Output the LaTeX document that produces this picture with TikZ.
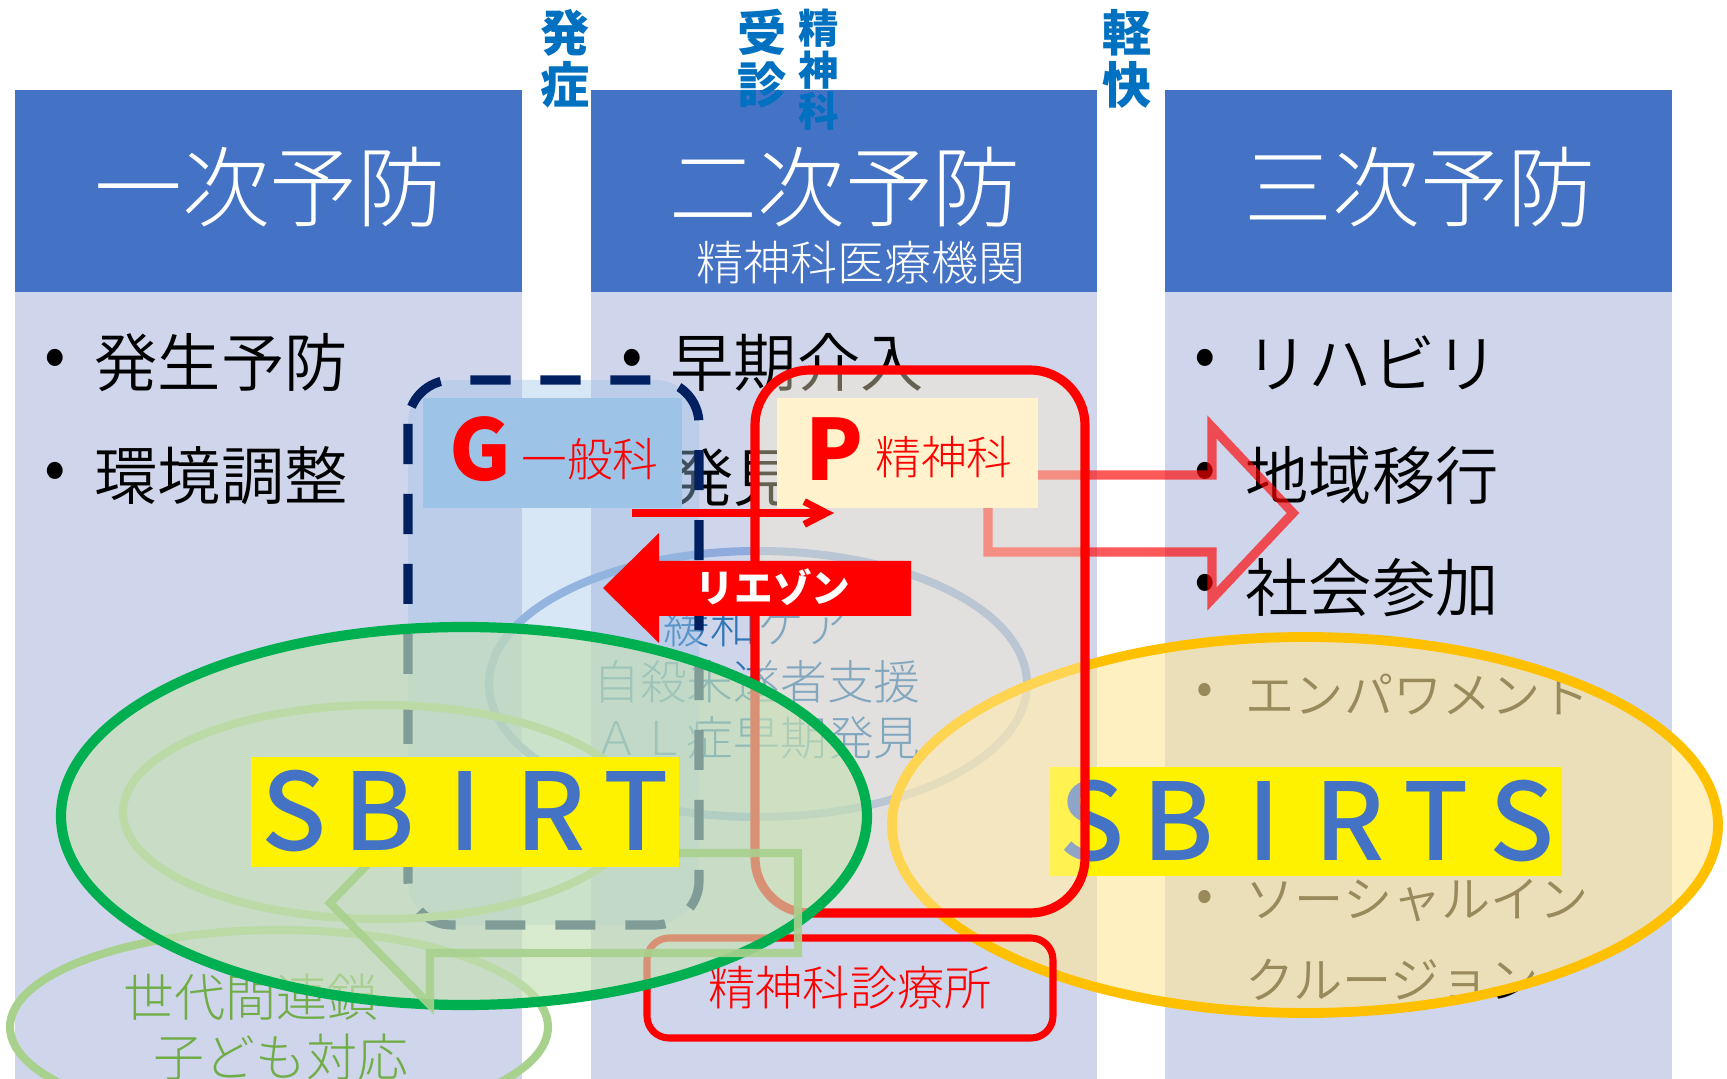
\documentclass[tikz,border=0pt]{standalone}
\usepackage{fontspec}
\usepackage{tikz}
\usetikzlibrary{positioning,arrows.meta}
\newfontfamily\jp{Noto Sans CJK JP}
\IfFontExistsTF{Noto Sans CJK JP Light}{\newfontfamily\jpl{Noto Sans CJK JP Light}}{\newfontfamily\jpl{Noto Sans CJK JP}}
\IfFontExistsTF{Noto Sans CJK JP DemiLight}{\newfontfamily\jpd{Noto Sans CJK JP DemiLight}}{\newfontfamily\jpd{Noto Sans CJK JP}}
\IfFontExistsTF{Noto Sans CJK JP Medium}{\newfontfamily\jpm{Noto Sans CJK JP Medium}}{\newfontfamily\jpm{Noto Sans CJK JP}}
\newcommand{\fsz}[2]{\fontsize{#1}{#2}\selectfont}
\definecolor{hdblue}{HTML}{4472C4}
\definecolor{colbody}{HTML}{CFD5EA}
\definecolor{labblue}{HTML}{0070C0}
\definecolor{navy}{HTML}{002060}
\definecolor{gblue}{HTML}{9DC3E6}
\definecolor{pcream}{HTML}{FFF2CC}
\definecolor{ellblue}{HTML}{8FAADC}
\definecolor{txtblue}{HTML}{2E75B6}
\definecolor{sgreen}{HTML}{00B050}
\definecolor{lgreen}{HTML}{A9D18E}
\definecolor{fgreen}{HTML}{C5E0B4}
\definecolor{tgreen}{HTML}{70AD47}
\definecolor{sorange}{HTML}{FFC000}
\definecolor{fyellow}{HTML}{FFE699}
\tikzset{
  hdtxt/.style={text=white,font=\jpl\fsz{25}{30},inner sep=0pt},
  subtxt/.style={text=white,font=\jpl\fsz{13.4}{16},inner sep=0pt},
  vlab/.style={text=labblue,font=\jp\bfseries\fsz{14}{14.8},align=center,inner sep=0pt},
  vlabs/.style={vlab,font=\jp\bfseries\fsz{11.5}{11.8}},
  item/.style={font=\jpd\fsz{18}{20},anchor=west,inner sep=0pt},
  dot/.style={font=\jp\fsz{18}{20},inner sep=0pt},
  smitem/.style={font=\jpd\fsz{14}{16},anchor=west,inner sep=0pt},
  smdot/.style={font=\jp\fsz{14}{16},inner sep=0pt},
  bluetxt/.style={text=txtblue,font=\jpl\fsz{13.3}{15.9},align=center,inner sep=0pt},
  gentxt/.style={text=tgreen,font=\jpl\fsz{14.5}{16},inner sep=0pt},
  letter/.style={text=hdblue,font=\jpm\fsz{30.5}{32},inner sep=0pt},
  bigl/.style={text=red,font=\jp\bfseries\fsz{24}{26},inner sep=0pt},
  deptxt/.style={text=red,font=\jpl\fsz{13}{15},inner sep=0pt},
  deptbox/.style={inner sep=0pt,minimum height=11mm},
  clinic/.style={draw=red,line width=2pt,rounded corners=2.2mm,minimum width=40.6mm,
    minimum height=10mm,inner sep=0pt,text=red,font=\jpl\fsz{13.4}{15}},
  liais/.style={text=white,font=\jp\bfseries\fsz{11}{13},inner sep=0pt}
}
\begin{document}
\begin{tikzpicture}[x=0.1mm,y=-0.1mm]
\useasboundingbox (0,0) rectangle (1727,1079);
\clip (0,0) rectangle (1727,1079);
% columns
\foreach \xl/\xr in {15/522,591/1097,1165/1672}{
  \fill[colbody] (\xl,292) rectangle (\xr,1079);
  \fill[hdblue] (\xl,90) rectangle (\xr,292);
}
\node[hdtxt] (prim) at (270,187) {一次予防};
\node[hdtxt] (second) at (845,187) {二次予防};
\node[hdtxt] (tert) at (1420,187) {三次予防};
\node[subtxt] (hosp) at (861,263) {精神科医療機関};
% top labels
\node[vlab] (onset) at (565,59) {発\\症};
\node[vlab] (visit) at (762,59) {受\\診};
\node[vlabs] (psy) at (819,70) {精\\神\\科};
\node[vlab] (remit) at (1127,59) {軽\\快};
% column items
\node[dot] (d11) at (55,363) {•};
\node[item] (t11) at (94,363) {発生予防};
\node[dot] (d12) at (55,476) {•};
\node[item] (t12) at (94,476) {環境調整};
\node[dot] (d21) at (632,363) {•};
\node[item] (t21) at (670,363) {早期介入};
\node[item] (t22) at (670,478) {発見};
\node[dot] (d31) at (1205,363) {•};
\node[item] (t31) at (1245,363) {リハビリ};
\node[dot] (d32) at (1205,476) {•};
\node[item] (t32) at (1245,476) {地域移行};
\node[dot] (d33) at (1205,588) {•};
\node[item] (t33) at (1245,588) {社会参加};
\node[smdot] (d34) at (1205,694) {•};
\node[smitem] (t34) at (1245,694) {エンパワメント};
\node[smdot] (d35) at (1205,901) {•};
\node[smitem] (t35) at (1245,901) {ソーシャルイン};
\node[smitem] (t36) at (1245,980) {クルージョン};
% palliative ellipse
\draw[ellblue,line width=2.3pt] (758,684) ellipse [x radius=26.9mm,y radius=13.3mm];
\node[bluetxt] (palli) at (757,682) {緩和ケア\\自殺未遂者支援\\ＡＬ症早期発見};
% hollow arrow to community
\draw[red,draw opacity=0.65,line width=2.6pt] (988,475) -- (1212,475) -- (1212,427)
  -- (1293,513) -- (1212,599) -- (1212,552) -- (988,552) -- cycle;
% SBIRTS
\draw[sorange,line width=2.8pt,fill=fyellow,fill opacity=0.6] (1305,825) ellipse [x radius=41.3mm,y radius=18.8mm];
\fill[yellow] (1050,767) rectangle (1562,876);
\foreach \c [count=\i] in {S,B,I,R,T,S}
  \node[letter] (sbs\i) at ({1092+86*(\i-1)},821) {\c};
% general dept region
\draw[navy,line width=2.6pt,dash pattern=on 11.4pt off 8.5pt,fill=gblue,fill opacity=0.4,
  rounded corners=4.4mm] (408,380) rectangle (699,925);
% psychiatry region
\draw[red,line width=2.6pt,fill=pcream,fill opacity=0.4,rounded corners=5.5mm] (755,370) rectangle (1085,913);
\node[clinic] (clinic) at (850,988) {精神科診療所};
% generation chain
\draw[lgreen,line width=2.3pt] (380,812) ellipse [x radius=25.7mm,y radius=10.7mm];
\draw[lgreen,line width=2.3pt] (279,1027) ellipse [x radius=26.9mm,y radius=9.7mm];
\node[gentxt] (chain) at (251,997) {世代間連鎖};
\node[gentxt] (kids) at (281,1057) {子ども対応};
% SBIRT
\draw[sgreen,line width=2.9pt,fill=fgreen,fill opacity=0.65] (464,816) ellipse [x radius=40.3mm,y radius=18.9mm];
\draw[lgreen,line width=2.3pt,opacity=0.9] (798,853) -- (430,853) -- (430,800) -- (330,903)
  -- (430,1005) -- (430,953) -- (798,953) -- cycle;
\fill[yellow] (251,757) rectangle (679,867);
\foreach \c [count=\i] in {S,B,I,R,T}
  \node[letter] (sb\i) at ({294+85.5*(\i-1)},811) {\c};
% G and P boxes
\node[deptbox,fill=gblue,minimum width=25.9mm] (gbox) at (552.5,453) {};
\node[deptbox,fill=pcream,minimum width=26.1mm] (pbox) at (907.5,453) {};
\node[bigl] (gl) at (480,449) {G};
\node[deptxt] (gdept) at (590,459) {一般科};
\node[bigl] (pl) at (834,449) {P};
\node[deptxt] (pdept) at (944,457) {精神科};
\coordinate (gout) at (632,513);
\coordinate (pin) at (834,513);
\draw[red,line width=2pt,-{Straight Barb[length=6.3pt,width=6.5pt]}] (gout) -- (pin);
% liaison
\fill[red] (911,561) -- (659,561) -- (659,533) -- (603,588) -- (659,643) -- (659,616) -- (911,616) -- cycle;
\node[liais] (liaison) at (773,587) {リエゾン};
\end{tikzpicture}
\end{document}
